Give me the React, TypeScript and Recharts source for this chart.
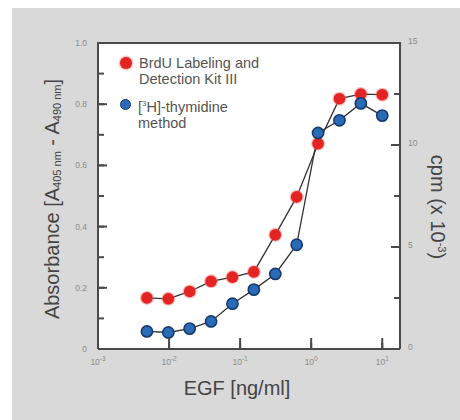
import React from "react";
import {
  LineChart,
  Line,
  XAxis,
  YAxis,
} from "recharts";

// EGF dilution series (ng/ml), two-fold steps
const egfConc = [0.00488, 0.00977, 0.0195, 0.039, 0.078, 0.156, 0.3125, 0.625, 1.25, 2.5, 5, 10];
// BrdU kit absorbance (left axis)
const brduAbs = [0.167, 0.164, 0.188, 0.221, 0.235, 0.252, 0.373, 0.497, 0.671, 0.818, 0.833, 0.831];
// [3H]-thymidine cpm x 10^-3 (right axis)
const thymidineCpm = [0.86, 0.81, 1.0, 1.35, 2.22, 2.91, 3.68, 5.11, 10.59, 11.21, 12.04, 11.44];

const xTicks = [0.001, 0.01, 0.1, 1, 10];
const xExponents = [-3, -2, -1, 0, 1];
const leftTicks = [0, 0.1, 0.2, 0.3, 0.4, 0.5, 0.6, 0.7, 0.8, 0.9, 1.0];
const rightTicks = [0, 2.5, 5, 7.5, 10, 12.5, 15];

const data = egfConc.map((c, i) => ({
  egf: c,
  brdu: brduAbs[i],
  cpm: thymidineCpm[i],
}));

const AXIS = "#4a4a4a";
const TICK_TEXT = "#8c8c8c";
const FONT = "'Liberation Sans', Arial, Helvetica, sans-serif";
const tickLineStyle = { stroke: AXIS, strokeWidth: 2 };

// native tick lines point inward (negative tickSize = 6), labels via custom ticks
function LeftTick(props: any) {
  const { x, y, payload } = props;
  const v = payload.value;
  const edge = x + 8;
  const major = Math.round(v * 10) % 2 === 0;
  return (
    <g>
      {major ? <line x1={edge} x2={edge + 9} y1={y} y2={y} stroke={AXIS} strokeWidth={2} /> : null}
      {major ? (
        <text x={edge - 11} y={y + 3} textAnchor="end" fontSize={8.5} fill={TICK_TEXT} fontFamily={FONT}>
          {v === 0 ? "0" : v.toFixed(1)}
        </text>
      ) : null}
    </g>
  );
}

function RightTick(props: any) {
  const { x, y, payload } = props;
  const v = payload.value;
  const edge = x - 8;
  const major = v % 5 === 0;
  return (
    <g>
      {major ? <line x1={edge} x2={edge - 9} y1={y} y2={y} stroke={AXIS} strokeWidth={2} /> : null}
      {major ? (
        <text x={edge + 8} y={y + 1} textAnchor="start" fontSize={8.5} fill={TICK_TEXT} fontFamily={FONT}>
          {String(v)}
        </text>
      ) : null}
    </g>
  );
}

function BottomTick(props: any) {
  const { x, y, index } = props;
  const edge = y - 6;
  const exp = xExponents[index];
  return (
    <g>
      {index > 0 ? (
        <line x1={x} x2={x} y1={edge} y2={edge - 11} stroke={AXIS} strokeWidth={2} />
      ) : null}
      <text x={x} y={edge + 16} textAnchor="middle" fontSize={8.5} fill={TICK_TEXT} fontFamily={FONT}>
        10
        <tspan dy={-4} fontSize={6.5}>
          {exp < 0 ? `-${-exp}` : `${exp}`}
        </tspan>
      </text>
    </g>
  );
}

function RedDot({ cx, cy, index }: any) {
  return (
    <g key={`r${index}`}>
      <circle cx={cx} cy={cy} r={7} fill="#f06a6a" opacity={0.45} />
      <circle cx={cx} cy={cy} r={5.8} fill="#e42323" />
    </g>
  );
}

function BlueDot({ cx, cy, index }: any) {
  return (
    <g key={`b${index}`}>
      <circle cx={cx} cy={cy} r={5.6} fill="#2a6bb8" stroke="#173a6c" strokeWidth={1.6} />
    </g>
  );
}

function LegendBox() {
  const txt: React.CSSProperties = {
    fontFamily: FONT,
    fontSize: 14.5,
    lineHeight: "16px",
    color: "#555",
  };
  return (
    <div>
      <div style={{ display: "flex", alignItems: "flex-start", marginBottom: 9 }}>
        <span
          style={{
            width: 12,
            height: 12,
            borderRadius: 6,
            background: "#e42323",
            boxShadow: "0 0 1.5px 1px rgba(240,106,106,0.6)",
            marginTop: 2,
            marginRight: 7,
            flex: "none",
          }}
        />
        <div style={txt}>
          BrdU Labeling and
          <br />
          Detection Kit III
        </div>
      </div>
      <div style={{ display: "flex", alignItems: "flex-start" }}>
        <span
          style={{
            width: 9,
            height: 9,
            borderRadius: 6,
            background: "#2a6bb8",
            border: "1.6px solid #173a6c",
            marginTop: 3,
            marginRight: 7,
            flex: "none",
          }}
        />
        <div style={txt}>
          [<sup style={{ fontSize: 8 }}>3</sup>H]-thymidine
          <br />
          method
        </div>
      </div>
    </div>
  );
}

export default function App() {
  const title: React.CSSProperties = {
    position: "absolute",
    fontFamily: FONT,
    fontSize: 20,
    color: "#444",
    whiteSpace: "nowrap",
  };
  return (
    <div style={{ position: "absolute", left: 0, top: 0, width: 460, height: 420, background: "#fff" }}>
      <div style={{ position: "absolute", left: 12, top: 8, width: 448, height: 412, background: "#d9d9d9" }} />
      {/* white plot background, top edge of the frame */}
      <div
        style={{
          position: "absolute",
          left: 97,
          top: 42,
          width: 304,
          height: 305,
          background: "#fff",
          borderTop: `2px solid ${AXIS}`,
        }}
      />
      <div style={{ position: "absolute", left: 0, top: 0 }}>
        <LineChart width={460} height={420} data={data} margin={{ top: 43, right: 30, bottom: 41, left: 68 }}>
          <XAxis
            dataKey="egf"
            type="number"
            scale="log"
            domain={[0.001, 17.78]}
            allowDataOverflow
            ticks={xTicks}
            tickSize={-6}
            tickMargin={12}
            height={30}
            interval={0}
            axisLine={{ stroke: AXIS, strokeWidth: 2 }}
            tickLine={tickLineStyle}
            tick={<BottomTick />}
          />
          <YAxis
            yAxisId="left"
            domain={[0, 1]}
            ticks={leftTicks}
            interval={0}
            width={30}
            tickSize={-6}
            tickMargin={14}
            axisLine={{ stroke: AXIS, strokeWidth: 2 }}
            tickLine={tickLineStyle}
            tick={<LeftTick />}
          />
          <YAxis
            yAxisId="right"
            orientation="right"
            domain={[0, 15]}
            ticks={rightTicks}
            interval={0}
            width={30}
            tickSize={-6}
            tickMargin={14}
            axisLine={{ stroke: AXIS, strokeWidth: 2 }}
            tickLine={tickLineStyle}
            tick={<RightTick />}
          />
          <Line
            yAxisId="left"
            dataKey="brdu"
            stroke="#333"
            strokeWidth={1.3}
            dot={RedDot}
            activeDot={false}
            isAnimationActive={false}
          />
          <Line
            yAxisId="right"
            dataKey="cpm"
            stroke="#333"
            strokeWidth={1.3}
            dot={BlueDot}
            activeDot={false}
            isAnimationActive={false}
          />
        </LineChart>
      </div>
      <div style={{ position: "absolute", left: 120, top: 55 }}>
        <LegendBox />
      </div>
      <div style={{ ...title, left: 52, top: 199, transform: "translate(-50%, -50%) rotate(-90deg)" }}>
        Absorbance [A<sub style={{ fontSize: 11, verticalAlign: "-2px" }}>405 nm</sub> - A
        <sub style={{ fontSize: 11, verticalAlign: "-2px" }}>490 nm</sub>]
      </div>
      <div style={{ ...title, left: 437, top: 207, transform: "translate(-50%, -50%) rotate(90deg)" }}>
        cpm (x 10<sup style={{ fontSize: 11, verticalAlign: "7px" }}>-3</sup>)
      </div>
      <div style={{ ...title, left: 237, top: 388, transform: "translate(-50%, -50%)" }}>EGF [ng/ml]</div>
    </div>
  );
}
